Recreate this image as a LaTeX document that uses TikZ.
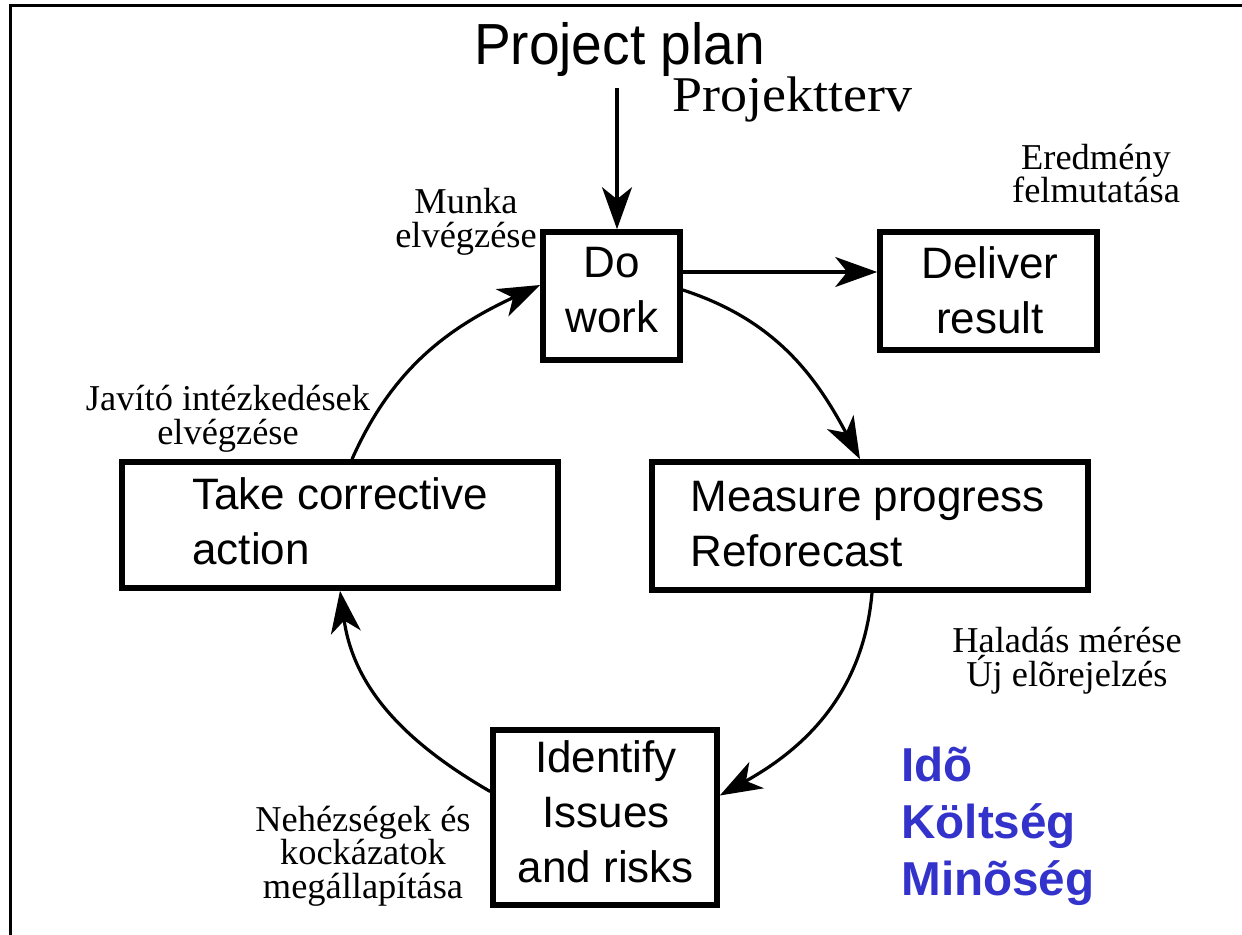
\documentclass[tikz,border=0pt]{standalone}
\usepackage{fontspec}
\setmainfont{Liberation Serif}
\setsansfont{Liberation Sans}
\usetikzlibrary{arrows.meta}
\definecolor{qblue}{RGB}{51,51,204}
\setlength{\lineskiplimit}{-20pt}
\begin{document}
\begin{tikzpicture}[x=0.5pt,y=-0.5pt,
  box/.style={draw, line width=2.8pt, inner sep=0pt},
  boxtext/.style={font=\sffamily\fontsize{22}{27.5}\selectfont, inner sep=0pt},
  hulabel/.style={font=\fontsize{18.2}{16.8}\selectfont, align=center, inner sep=0pt},
  arr/.style={line width=1.6pt, -{Stealth[length=21pt,width=15pt,inset=6pt]}},
  frameline/.style={line width=1.5pt}
]
\useasboundingbox (0,0) rectangle (1242,935);
% frame (top and left only)
\draw[frameline] (10,935) -- (10,6) -- (1242,6);

% boxes
\node[box, minimum width=68.5pt, minimum height=64pt] (dowork) at (611.5,296) {};
\node[box, minimum width=108.5pt, minimum height=59pt] (deliver) at (988.5,291) {};
\node[box, minimum width=218pt, minimum height=63pt] (tca) at (340,525) {};
\node[box, minimum width=218pt, minimum height=64pt] (measure) at (870,526) {};
\node[box, minimum width=112pt, minimum height=87.5pt] (identify) at (605,817.5) {};

% box texts
\node[boxtext, align=center] (doworkt) at (612,290.5) {Do\\work};
\node[boxtext, align=center] (delivert) at (990,290) {Deliver\\result};
\node[boxtext, align=left, anchor=west] (tcat) at (192,521.5) {Take corrective\\action};
\node[boxtext, align=left, anchor=west] (measuret) at (690,524.5) {Measure progress\\Reforecast};
\node[boxtext, align=center] (identifyt) at (606,811.5) {Identify\\Issues\\and risks};

% titles
\node[font=\sffamily\fontsize{29}{34}\selectfont, inner sep=0pt, anchor=base] (pp) at (619.5,65) {\scalebox{0.95}[1]{Project plan}};
\node[font=\fontsize{25}{30}\selectfont, inner sep=0pt, anchor=base] (ppt) at (792,112) {\scalebox{1.08}[1]{Projektterv}};

% Hungarian labels
\node[hulabel] (munka) at (466,222) {Munka\\elvégzése};
\node[hulabel] (eredmeny) at (1096,173.5) {Eredmény\\felmutatása};
\node[hulabel] (javito) at (228,419) {Javító intézkedések\\elvégzése};
\node[hulabel] (haladas) at (1067,661) {Haladás mérése\\Új elõrejelzés};
\node[hulabel] (nehez) at (363,856) {Nehézségek és\\kockázatok\\megállapítása};

% blue text
\node[font=\sffamily\bfseries\fontsize{23.8}{28.5}\selectfont, text=qblue, align=left, anchor=west, inner sep=0pt] (ikm) at (901,826.5) {Idõ\\Költség\\Minõség};

% connectors
\coordinate (ppb) at (617,88);
\draw[arr] (ppb) -- (ppb |- dowork.north);
\draw[arr] ([yshift=12pt]dowork.east) -- ([yshift=12pt]dowork.east -| deliver.west);
\draw[arr] ([yshift=3pt]dowork.east) to[out=-18,in=118] ([xshift=-5pt]measure.north);
\draw[arr] ([xshift=1pt]measure.south) to[out=-95,in=29] ([yshift=11pt]identify.east);
\draw[arr] ([yshift=13pt]identify.west) to[out=150,in=-82] (tca.south);
\draw[arr] ([xshift=6pt]tca.north) to[out=66,in=-155] ([yshift=5.5pt]dowork.west);
\end{tikzpicture}
\end{document}
